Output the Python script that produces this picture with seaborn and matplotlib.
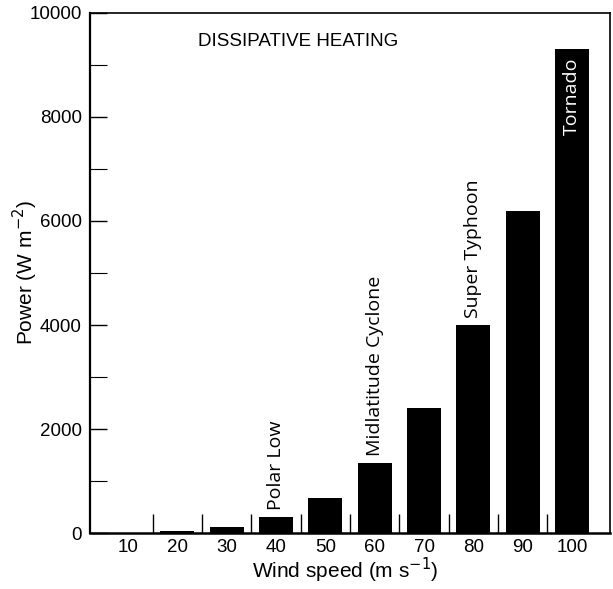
import matplotlib
matplotlib.use("Agg")
import matplotlib.pyplot as plt
import seaborn as sns
import pandas as pd
from matplotlib.ticker import FixedLocator, MultipleLocator

wind_speed = [10, 20, 30, 40, 50, 60, 70, 80, 90, 100]
power = [10, 40, 110, 300, 680, 1340, 2400, 4000, 6200, 9300]
labels = {3: "Polar Low", 5: "Midlatitude Cyclone", 7: "Super Typhoon"}
title = "DISSIPATIVE HEATING"

sns.set_theme(style="ticks")
plt.rcParams['font.family'] = ['Liberation Sans', 'DejaVu Sans']
for k in ['text.color', 'axes.labelcolor', 'xtick.color', 'ytick.color', 'axes.edgecolor']:
    plt.rcParams[k] = 'black'

df = pd.DataFrame({"wind": [str(w) for w in wind_speed], "power": power})

fig = plt.figure(figsize=(6.13, 5.89), dpi=100)
ax = fig.add_axes([0.147, 0.095, 0.848, 0.883])
sns.barplot(data=df, x="wind", y="power", color="black", width=0.69,
            saturation=1, ax=ax, edgecolor="black", linewidth=0)

ax.set_xlim(-0.77, 9.77)
ax.set_ylim(0, 10000)
ax.yaxis.set_major_locator(MultipleLocator(2000))
ax.yaxis.set_minor_locator(MultipleLocator(1000))
ax.xaxis.set_minor_locator(FixedLocator([i + 0.5 for i in range(9)]))
ax.tick_params(axis="y", which="major", direction="in", length=12, width=1, labelsize=13.5, pad=6)
ax.tick_params(axis="y", which="minor", direction="in", length=12, width=0.8)
ax.tick_params(axis="x", which="major", length=0, labelsize=13.5, pad=4)
ax.tick_params(axis="x", which="minor", direction="in", length=14, width=1)
for s in ax.spines.values():
    s.set_visible(True)
    s.set_linewidth(1.2)
ax.spines['left'].set_linewidth(1.6)
ax.spines['bottom'].set_linewidth(1.8)

ax.set_xlabel("Wind speed (m s$^{-1}$)", fontsize=15)
ax.set_ylabel("Power (W m$^{-2}$)", fontsize=15)
ax.xaxis.set_label_coords(0.49, -0.072)
ax.xaxis.label.set_va('center')
ax.yaxis.set_label_coords(-0.125, 0.5)
ax.yaxis.label.set_va('center')

ax.text(0.4, 0.945, title, transform=ax.transAxes, ha="center", va="center", fontsize=13.5)

for i, txt in labels.items():
    ax.annotate(txt, xy=(i, power[i]), xytext=(0, 5), textcoords="offset points",
                rotation=90, ha="center", va="bottom", fontsize=14,
                family=["Open Sans", "DejaVu Sans"])
ax.text(9, 9150, "Tornado", rotation=90, ha="center", va="top", color="white",
        fontsize=14, family=["Open Sans", "DejaVu Sans"])

fig.savefig("out.png", dpi=100)
